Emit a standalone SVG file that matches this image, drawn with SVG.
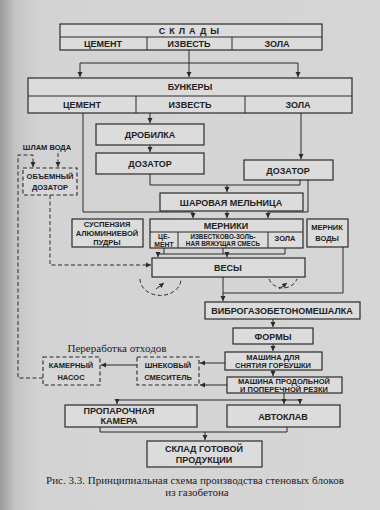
<svg xmlns="http://www.w3.org/2000/svg" width="380" height="510" viewBox="0 0 380 510">
<defs>
<linearGradient id="paper" x1="0" y1="0" x2="1" y2="0">
<stop offset="0" stop-color="#9a9a9a"/>
<stop offset="0.04" stop-color="#c4c4c4"/>
<stop offset="0.1" stop-color="#d3d3d3"/>
<stop offset="1" stop-color="#d6d6d6"/>
</linearGradient>
<marker id="ah" markerWidth="6" markerHeight="6" refX="5" refY="3" orient="auto" markerUnits="userSpaceOnUse">
<path d="M0,0.5 L5,3 L0,5.5 Z" fill="#2a2a2a"/>
</marker>
</defs>
<style>
.b{fill:#dcdcdc;stroke:#2a2a2a;stroke-width:1.2}
.d{fill:#d6d6d6;stroke:#2a2a2a;stroke-width:1.1;stroke-dasharray:4 2.5}
.l{fill:none;stroke:#2a2a2a;stroke-width:1}
.dl{fill:none;stroke:#2a2a2a;stroke-width:1;stroke-dasharray:4 2.5}
.a{marker-end:url(#ah)}
text{font-family:"Liberation Sans",Arial,sans-serif;font-weight:bold;fill:#222;text-anchor:middle;font-size:9px}
.s{font-size:7.5px}
.t{font-size:6.8px}
.xs{font-size:6.3px}
.cap{font-family:"Liberation Serif","Times New Roman",serif;font-weight:normal;font-size:11px}
</style>
<rect x="0" y="0" width="380" height="510" fill="url(#paper)"/>

<g id="sklady">
<rect class="b" x="60" y="24" width="262" height="26"/>
<line class="l" x1="60" y1="37" x2="322" y2="37"/>
<line class="l" x1="147" y1="37" x2="147" y2="50"/>
<line class="l" x1="232" y1="37" x2="232" y2="50"/>
<text x="191" y="34" letter-spacing="4">СКЛАДЫ</text>
<text x="103" y="47">ЦЕМЕНТ</text>
<text x="189" y="47">ИЗВЕСТЬ</text>
<text x="277" y="47">ЗОЛА</text>
</g>

<g id="bunkery">
<rect class="b" x="28" y="78" width="324" height="35"/>
<line class="l" x1="28" y1="96" x2="352" y2="96"/>
<line class="l" x1="136" y1="96" x2="136" y2="113"/>
<line class="l" x1="245" y1="96" x2="245" y2="113"/>
<text x="190" y="90">БУНКЕРЫ</text>
<text x="82" y="108">ЦЕМЕНТ</text>
<text x="190" y="108">ИЗВЕСТЬ</text>
<text x="298" y="108">ЗОЛА</text>
</g>

<g id="drobilka">
<rect class="b" x="96" y="124" width="108" height="21"/>
<text x="150" y="138">ДРОБИЛКА</text>
</g>

<g id="dozator1">
<rect class="b" x="96" y="153" width="108" height="21"/>
<text x="150" y="167">ДОЗАТОР</text>
</g>

<g id="dozator2">
<rect class="b" x="244" y="160" width="89" height="20"/>
<text x="288" y="174">ДОЗАТОР</text>
</g>

<g id="shlam-voda">
<text class="s" x="47" y="150">ШЛАМ ВОДА</text>
</g>

<g id="obyemny-dozator">
<rect class="d" x="23" y="168" width="54" height="27"/>
<text class="s" x="50" y="179">ОБЪЕМНЫЙ</text>
<text class="s" x="50" y="190">ДОЗАТОР</text>
</g>

<g id="melnica">
<rect class="b" x="160" y="193" width="143" height="18"/>
<text x="231" y="206">ШАРОВАЯ МЕЛЬНИЦА</text>
</g>

<g id="suspenzia">
<rect class="b" x="72" y="219" width="71" height="28"/>
<text class="s" x="107" y="227">СУСПЕНЗИЯ</text>
<text class="s" x="107" y="236">АЛЮМИНИЕВОЙ</text>
<text class="s" x="107" y="245">ПУДРЫ</text>
</g>

<g id="merniki">
<rect class="b" x="150" y="219" width="153" height="29"/>
<line class="l" x1="150" y1="232" x2="303" y2="232"/>
<line class="l" x1="178" y1="232" x2="178" y2="248"/>
<line class="l" x1="268" y1="232" x2="268" y2="248"/>
<text x="226" y="229">МЕРНИКИ</text>
<text class="t" x="164" y="239">ЦЕ-</text>
<text class="t" x="164" y="246.5">МЕНТ</text>
<text class="xs" x="223" y="239">ИЗВЕСТКОВО-ЗОЛЬ-</text>
<text class="xs" x="223" y="246">НАЯ ВЯЖУЩАЯ СМЕСЬ</text>
<text class="s" x="285" y="241">ЗОЛА</text>
</g>

<g id="mernik-vody">
<rect class="b" x="307" y="219" width="41" height="28"/>
<text class="s" x="327" y="230">МЕРНИК</text>
<text class="s" x="327" y="241">ВОДЫ</text>
</g>

<g id="vesy">
<rect class="b" x="152" y="258" width="153" height="19"/>
<text x="228" y="271">ВЕСЫ</text>
</g>

<g id="vibro">
<rect class="b" x="205" y="302" width="155" height="17"/>
<text x="282" y="314">ВИБРОГАЗОБЕТОНОМЕШАЛКА</text>
</g>

<g id="formy">
<rect class="b" x="233" y="328" width="80" height="16"/>
<text x="273" y="340">ФОРМЫ</text>
</g>

<g id="pererabotka">
<text class="cap" x="117" y="352">Переработка отходов</text>
</g>

<g id="mashina-gorbushki">
<rect class="b" x="225" y="352" width="97" height="18"/>
<text class="s" x="273" y="360">МАШИНА ДЛЯ</text>
<text class="s" x="273" y="368">СНЯТИЯ ГОРБУШКИ</text>
</g>

<g id="mashina-rezki">
<rect class="b" x="227" y="377" width="115" height="16"/>
<text class="s" x="284" y="384">МАШИНА ПРОДОЛЬНОЙ</text>
<text class="s" x="284" y="392">И ПОПЕРЕЧНОЙ РЕЗКИ</text>
</g>

<g id="shnekovy">
<rect class="d" x="137" y="357" width="62" height="28"/>
<text class="s" x="168" y="368">ШНЕКОВЫЙ</text>
<text class="s" x="168" y="380">СМЕСИТЕЛЬ</text>
</g>

<g id="kamerny">
<rect class="d" x="43" y="357" width="57" height="28"/>
<text class="s" x="71" y="368">КАМЕРНЫЙ</text>
<text class="s" x="71" y="380">НАСОС</text>
</g>

<g id="proparochnaya">
<rect class="b" x="65" y="405" width="132" height="22"/>
<text x="119" y="414">ПРОПАРОЧНАЯ</text>
<text x="119" y="424">КАМЕРА</text>
</g>

<g id="avtoklav">
<rect class="b" x="227" y="405" width="113" height="22"/>
<text x="283" y="420">АВТОКЛАВ</text>
</g>

<g id="sklad-gotovoy">
<rect class="b" x="147" y="441" width="115" height="26"/>
<text x="204" y="452">СКЛАД ГОТОВОЙ</text>
<text x="204" y="463">ПРОДУКЦИИ</text>
</g>

<g id="caption">
<text class="cap" x="195" y="484">Рис. 3.3. Принципиальная схема производства стеновых блоков</text>
<text class="cap" x="197" y="496">из газобетона</text>
</g>

<g id="connectors">
<path class="l a" d="M189,50 V77"/>
<path class="l" d="M80,63 H298"/>
<path class="l a" d="M80,63 V77"/>
<path class="l a" d="M298,63 V77"/>
<path class="l a" d="M150,113 V123"/>
<path class="l a" d="M150,145 V152"/>
<path class="l a" d="M301,113 V159"/>
<path class="l" d="M150,174 V185 H300 V180"/>
<path class="l a" d="M227,185 V192"/>
<path class="l a" d="M83,113 V212 H193 V218"/>
<path class="l a" d="M227,211 V218"/>
<path class="l a" d="M308,180 V212 H268 V218"/>
<path class="l" d="M164,248 V254 M223,248 V254 M285,248 V254 M158,254 H285"/>
<path class="l a" d="M158,254 V257"/>
<path class="l a" d="M227,254 V257"/>
<path class="dl a" d="M50,195 V265 H151"/>
<path class="dl" d="M140,279 A20,16 0 0 0 181,279"/>
<path class="l a" d="M156,289 L164,283"/>
<path class="dl" d="M269,279 A15,14 0 0 0 297,279"/>
<path class="l a" d="M279,289 L287,283"/>
<path class="l a" d="M223,277 V301"/>
<path class="l" d="M343,247 V293 H223"/>
<path class="l a" d="M273,319 V327"/>
<path class="l a" d="M273,344 V351"/>
<path class="l a" d="M273,370 V376"/>
<path class="l a" d="M225,363 H200"/>
<path class="l a" d="M137,365 H101"/>
<path class="l a" d="M227,385 H200"/>
<path class="dl a" d="M43,378 H18 V155 H33 V167"/>
<path class="dl a" d="M58,153 V167"/>
<path class="l" d="M284,393 V400 M117,400 H300"/>
<path class="l a" d="M117,400 V404"/>
<path class="l a" d="M284,400 V404"/>
<path class="l a" d="M300,400 V404"/>
<path class="l" d="M100,427 V432 H287 V427"/>
<path class="l a" d="M205,432 V440"/>
</g>
</svg>
